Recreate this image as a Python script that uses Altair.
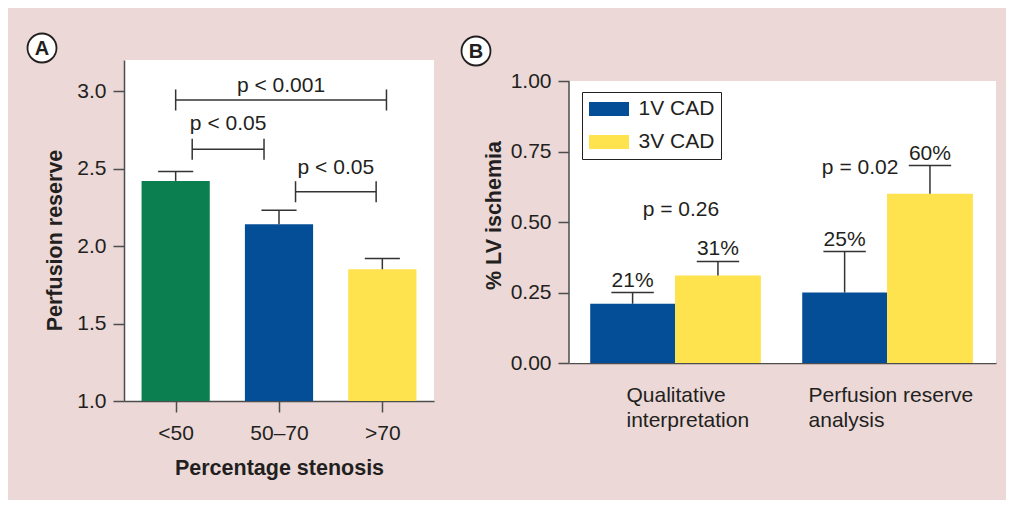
import altair as alt
import pandas as pd

# ---------------- Panel A data ----------------
stenosis = ["<50", "50–70", ">70"]
reserve = [2.42, 2.14, 1.85]
reserve_err = [2.48, 2.23, 1.92]
colors_a = ["#0b7f50", "#034e97", "#fee34f"]

bracket_left = [0.0, 0.16, 1.16]
bracket_right = [2.04, 0.855, 1.94]
bracket_y = [2.942, 2.624, 2.350]
bracket_text = ["p < 0.001", "p < 0.05", "p < 0.05"]
bracket_text_y = [2.994, 2.748, 2.465]

# ---------------- Panel B data ----------------
methods = [["Qualitative", "interpretation"], ["Perfusion reserve", "analysis"]]
groups = ["1V CAD", "3V CAD"]
colors_b = ["#034e97", "#fee34f"]
ischemia_1v = [0.21, 0.25]
ischemia_3v = [0.31, 0.60]
err_1v = [0.25, 0.395]
err_3v = [0.36, 0.70]
pct_1v = ["21%", "25%"]
pct_3v = ["31%", "60%"]
pvals = ["p = 0.26", "p = 0.02"]
pval_x = [0.028, 0.873]
pval_y = [0.521, 0.67]

TXT = "#231f20"
AX = "#4d4d4d"
FONT = "Liberation Sans"
FS = 21

# ---------------- Panel A ----------------
df_a = pd.DataFrame({"cat": stenosis, "pos": list(range(len(stenosis))),
                     "val": reserve, "err": reserve_err})
xs_a = alt.Scale(domain=[-0.5, 2.5], nice=False, zero=False)
ys_a = alt.Scale(domain=[1.0, 3.2], nice=False, zero=False)

label_expr_a = " : ".join(
    [f"datum.value == {i} ? '{s}'" for i, s in enumerate(stenosis[:-1])]) + f" : '{stenosis[-1]}'"

axis_x_a = alt.Axis(values=list(range(len(stenosis))), labelExpr=label_expr_a,
                    title="Percentage stenosis", labelPadding=10, titlePadding=14)
axis_y_a = alt.Axis(values=[1.0, 1.5, 2.0, 2.5, 3.0], format=".1f", title="Perfusion reserve",
                    labelPadding=7, titlePadding=10, titleY=180)

base_a = alt.Chart(df_a).transform_calculate(
    x0="datum.pos - 0.33", x1="datum.pos + 0.33",
    c0="datum.pos - 0.17", c1="datum.pos + 0.17", base="1")

bars_a = base_a.mark_bar().encode(
    x=alt.X("x0:Q", scale=xs_a, axis=axis_x_a), x2="x1:Q",
    y=alt.Y("val:Q", scale=ys_a, axis=axis_y_a), y2="base:Q",
    color=alt.Color("cat:N", scale=alt.Scale(domain=stenosis, range=colors_a), legend=None))
err_a = base_a.mark_rule(color="#333", strokeWidth=1.5).encode(
    x="pos:Q", y="val:Q", y2="err:Q")
cap_a = base_a.mark_rule(color="#333", strokeWidth=1.5).encode(
    x="c0:Q", x2="c1:Q", y="err:Q")

df_br = pd.DataFrame({"l": bracket_left, "r": bracket_right, "y": bracket_y,
                      "t": bracket_text, "ty": bracket_text_y})
base_br = alt.Chart(df_br).transform_calculate(
    lo="datum.y - 0.068", hi="datum.y + 0.068", mid="(datum.l + datum.r) / 2")
br_h = base_br.mark_rule(color="#333", strokeWidth=1.5).encode(x="l:Q", x2="r:Q", y="y:Q")
br_l = base_br.mark_rule(color="#333", strokeWidth=1.5).encode(x="l:Q", y="lo:Q", y2="hi:Q")
br_r = base_br.mark_rule(color="#333", strokeWidth=1.5).encode(x="r:Q", y="lo:Q", y2="hi:Q")
br_t = base_br.mark_text(font=FONT, fontSize=FS, color=TXT, baseline="alphabetic").encode(
    x="mid:Q", y="ty:Q", text="t:N")

lab_a = alt.Chart(pd.DataFrame({"t": ["A"]}))
circ_a = lab_a.mark_point(shape="circle", size=841, fill="white", stroke=TXT,
                          strokeWidth=1.8, opacity=1, fillOpacity=1).encode(
    x=alt.value(-82), y=alt.value(-12))
let_a = lab_a.mark_text(font=FONT, fontSize=20, fontWeight="bold", color=TXT,
                        baseline="middle", dy=1).encode(
    x=alt.value(-82), y=alt.value(-12), text="t:N")

panel_a = alt.layer(bars_a, err_a, cap_a, br_h, br_l, br_r, br_t, circ_a, let_a).properties(
    width=310, height=341, view=alt.ViewBackground(fill="white", stroke=None))

# ---------------- Panel B ----------------
rows = []
for m in range(len(methods)):
    rows.append({"m": m, "s": groups[0], "x0": m - 0.40, "x1": m,
                 "val": ischemia_1v[m], "err": err_1v[m], "pct": pct_1v[m]})
    rows.append({"m": m, "s": groups[1], "x0": m, "x1": m + 0.405,
                 "val": ischemia_3v[m], "err": err_3v[m], "pct": pct_3v[m]})
df_b = pd.DataFrame(rows)

XB0, XB1 = -0.5, 1.514
YTOP = 303 / 282
xs_b = alt.Scale(domain=[XB0, XB1], nice=False, zero=False)
ys_b = alt.Scale(domain=[0, YTOP], nice=False)

label_expr_b = "datum.value == 0 ? " + str(methods[0]) + " : " + str(methods[1])
axis_x_b = alt.Axis(values=[0, 1], labelExpr=label_expr_b, title=None, ticks=False,
                    tickSize=0, labelPadding=21, labelLineHeight=25, labelAlign="left",
                    labelOffset={"condition": {"test": "datum.value == 0", "value": -49},
                                 "value": -79})
axis_y_b = alt.Axis(values=[0, 0.25, 0.5, 0.75, 1.0], format=".2f", title="% LV ischemia",
                    labelPadding=7, titlePadding=5, domain=False, titleY=155)

frame = alt.Chart(pd.DataFrame({"k": [0]}))
bg_b = frame.mark_rect(color="white").encode(
    x=alt.X(datum=XB0, scale=xs_b, axis=axis_x_b), x2=alt.datum(XB1),
    y=alt.Y(datum=0, scale=ys_b, axis=axis_y_b), y2=alt.datum(1))
yline_b = frame.mark_rule(color=AX, strokeWidth=1.5).encode(
    x=alt.datum(XB0), y=alt.datum(0), y2=alt.datum(1))

base_b = alt.Chart(df_b).transform_calculate(
    xc="(datum.x0 + datum.x1) / 2", c0="(datum.x0 + datum.x1) / 2 - 0.1",
    c1="(datum.x0 + datum.x1) / 2 + 0.1")

bars_b = base_b.mark_bar().encode(
    x=alt.X("x0:Q", scale=xs_b, axis=axis_x_b), x2="x1:Q",
    y=alt.Y("val:Q", scale=ys_b, axis=axis_y_b), y2=alt.datum(0),
    color=alt.Color("s:N", scale=alt.Scale(domain=groups, range=colors_b),
                    legend=alt.Legend(title=None, orient="none", legendX=13, legendY=32,
                                      symbolType="M-2,-0.7H2V0.7H-2Z", symbolSize=400,
                                      symbolOffset=10, symbolStrokeWidth=0,
                                      labelFont=FONT, labelFontSize=FS,
                                      labelColor=TXT, strokeColor=TXT, fillColor="white",
                                      padding=6.5, rowPadding=11, labelOffset=19)))
err_b = base_b.mark_rule(color="#333", strokeWidth=1.5).encode(x="xc:Q", y="val:Q", y2="err:Q")
cap_b = base_b.mark_rule(color="#333", strokeWidth=1.5).encode(x="c0:Q", x2="c1:Q", y="err:Q")
pct_b = base_b.mark_text(font=FONT, fontSize=FS, color=TXT, baseline="alphabetic", dy=-6).encode(
    x="xc:Q", y="err:Q", text="pct:N")

df_p = pd.DataFrame({"p": pvals, "px": pval_x, "py": pval_y})
p_b = alt.Chart(df_p).mark_text(font=FONT, fontSize=FS, color=TXT, baseline="alphabetic").encode(
    x="px:Q", y="py:Q", text="p:N")

lab_b = alt.Chart(pd.DataFrame({"t": ["B"]}))
circ_b = lab_b.mark_point(shape="circle", size=841, fill="white", stroke=TXT,
                          strokeWidth=1.8, opacity=1, fillOpacity=1).encode(
    x=alt.value(-93), y=alt.value(-9))
let_b = lab_b.mark_text(font=FONT, fontSize=20, fontWeight="bold", color=TXT,
                        baseline="middle", dy=1).encode(
    x=alt.value(-93), y=alt.value(-9), text="t:N")

panel_b = alt.layer(bg_b, yline_b, bars_b, err_b, cap_b, pct_b, p_b, circ_b, let_b).properties(
    width=427, height=303, view=alt.ViewBackground(fill=None, stroke=None))

chart = alt.hconcat(panel_a, panel_b, spacing=23).resolve_scale(color="independent").properties(
    padding={"left": 15, "top": 21, "right": 10, "bottom": 21},
    background="#ebd8d7",
).configure_view(stroke=None).configure_axis(
    domainColor=AX, domainWidth=1.5, tickColor=AX, tickWidth=1.5, tickSize=11,
    labelFont=FONT, labelFontSize=FS, labelColor=TXT,
    titleFont=FONT, titleFontSize=21.5, titleFontWeight="bold", titleColor=TXT, grid=False)

chart.save("out.html", embed_options={"renderer": "svg", "actions": False})
